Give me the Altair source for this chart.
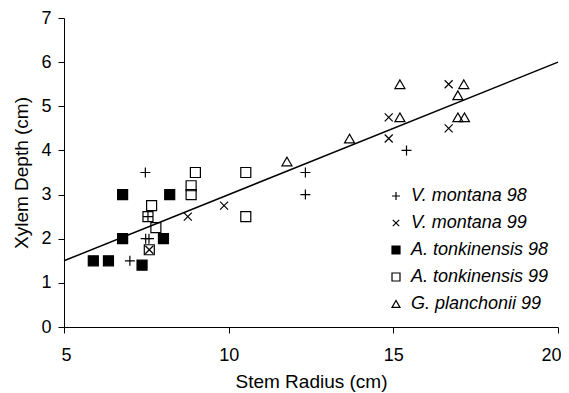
import altair as alt
import pandas as pd

# ---- data ----
vm98_x = [7.47, 7.0, 7.48, 7.58, 7.55, 12.33, 12.33, 15.4]
vm98_y = [3.5, 1.5, 2.0, 2.0, 2.5, 3.5, 3.0, 4.0]

vm99_x = [8.76, 9.86, 7.59, 14.86, 14.86, 16.68, 16.68]
vm99_y = [2.5, 2.75, 1.75, 4.75, 4.27, 5.5, 4.5]

at98_x = [5.89, 6.35, 6.78, 6.78, 7.37, 8.21, 8.02]
at98_y = [1.5, 1.5, 3.0, 2.0, 1.4, 3.0, 2.0]

at99_x = [8.99, 10.52, 8.86, 8.86, 7.66, 7.55, 7.79, 10.52, 7.59]
at99_y = [3.5, 3.5, 3.2, 3.0, 2.75, 2.5, 2.25, 2.5, 1.75]

gp99_x = [11.77, 13.67, 15.2, 15.2, 17.14, 16.96, 16.96, 17.16]
gp99_y = [3.75, 4.27, 5.5, 4.75, 5.5, 5.25, 4.75, 4.75]

series_names = ["V. montana 98", "V. montana 99", "A. tonkinensis 98",
                "A. tonkinensis 99", "G. planchonii 99"]

line_x = [5, 20]
line_y = [1.5, 6.0]

rows = []
for name, xs, ys in zip(series_names,
                        [vm98_x, vm99_x, at98_x, at99_x, gp99_x],
                        [vm98_y, vm99_y, at98_y, at99_y, gp99_y]):
    for x, y in zip(xs, ys):
        rows.append({"series": name, "x": x, "y": y})
df = pd.DataFrame(rows)
line_df = pd.DataFrame({"x": line_x, "y": line_y})

FONT = "Liberation Sans"

plus_path = "M-1,0L1,0M0,-1L0,1"
x_path = "M-0.8,-0.8L0.8,0.8M-0.8,0.8L0.8,-0.8"

xscale = alt.Scale(domain=[5, 20], nice=False, zero=False)
yscale = alt.Scale(domain=[0, 7], nice=False)

xaxis = alt.Axis(values=[5, 10, 15, 20], title="Stem Radius (cm)", grid=False,
                 tickSize=6, labelPadding=13, titlePadding=8,
                 labelFlush=True, labelFlushOffset=3)
yaxis = alt.Axis(values=[0, 1, 2, 3, 4, 5, 6, 7], title="Xylem Depth (cm)", grid=False,
                 tickSize=6, labelPadding=7, titlePadding=9, labelFlush=False)

legend = alt.Legend(title=None, orient="none", legendX=323, legendY=169, padding=0,
                    labelFont=FONT, labelFontSize=18, labelFontStyle="italic",
                    labelColor="black", symbolSize=64, symbolStrokeWidth=1.2,
                    rowPadding=9, labelOffset=6)

points = alt.Chart(df).mark_point(size=100, strokeWidth=1.2, opacity=1).encode(
    x=alt.X("x:Q", scale=xscale, axis=xaxis),
    y=alt.Y("y:Q", scale=yscale, axis=yaxis),
    shape=alt.Shape("series:N",
                    scale=alt.Scale(domain=series_names,
                                    range=[plus_path, x_path, "square", "square", "triangle-up"]),
                    legend=legend),
    fill=alt.Fill("series:N",
                  scale=alt.Scale(domain=series_names,
                                  range=["transparent", "transparent", "black", "transparent", "transparent"]),
                  legend=legend),
    stroke=alt.Stroke("series:N",
                      scale=alt.Scale(domain=series_names,
                                      range=["black"] * 5),
                      legend=legend),
)

line = alt.Chart(line_df).mark_line(color="black", strokeWidth=1.5).encode(
    x=alt.X("x:Q", scale=xscale),
    y=alt.Y("y:Q", scale=yscale),
)

chart = alt.layer(line, points).properties(
    width=494, height=309,
    background="white",
    autosize=alt.AutoSizeParams(type="none"),
    padding={"left": 56, "top": 10, "right": 3, "bottom": 66},
).configure_view(stroke=None).configure_axis(
    domainColor="black", tickColor="black", labelColor="black", titleColor="black",
    labelFont=FONT, titleFont=FONT, labelFontSize=18, titleFontSize=19,
    titleFontWeight="normal", domainWidth=1, tickWidth=1,
)

chart.save("out.html", embed_options={"renderer": "svg", "actions": False})
